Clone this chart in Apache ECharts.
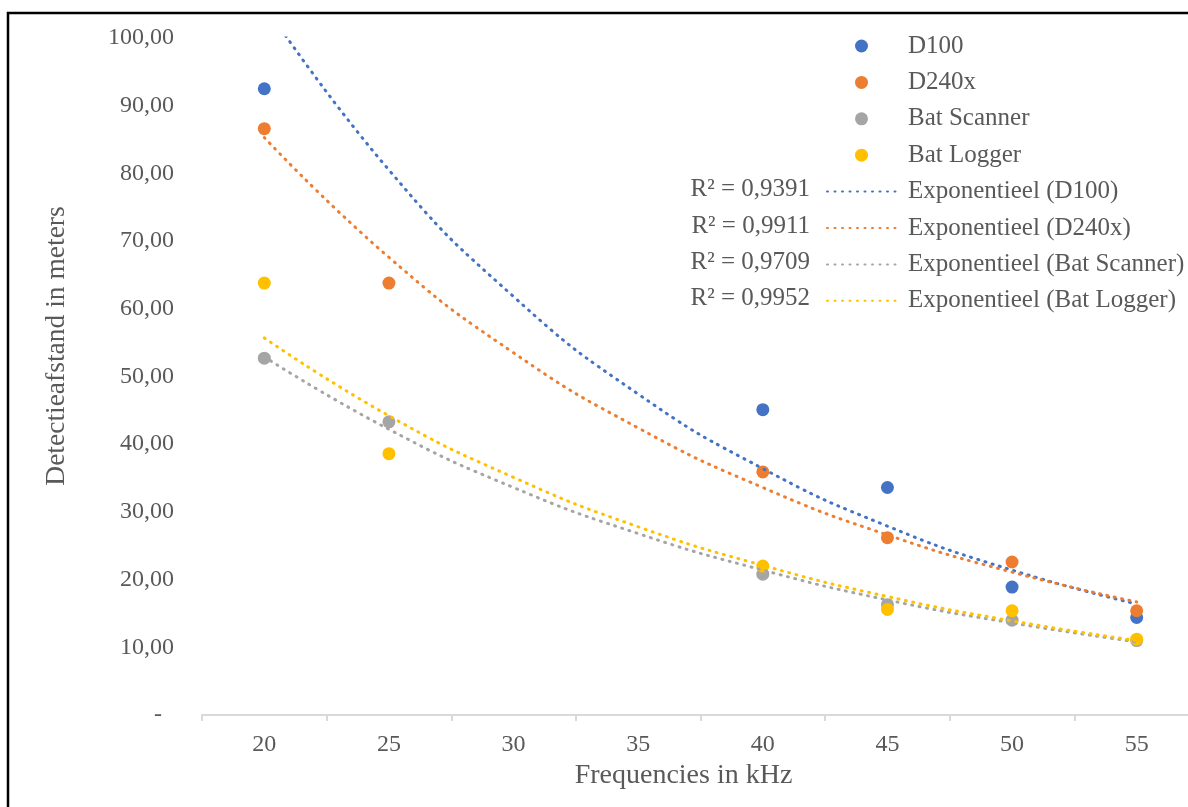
<!DOCTYPE html>
<html>
<head>
<meta charset="utf-8">
<script src="https://cdn.jsdelivr.net/npm/echarts@6/dist/echarts.min.js"></script>
<style>
html,body{margin:0;padding:0;background:#fff;overflow:hidden;width:1188px;height:807px;}
#chart{width:1215px;height:807px;}
</style>
</head>
<body>
<div id="chart"></div>
<script>
// ---- data ----
const categories = ['20', '25', '30', '35', '40', '45', '50', '55'];
const d100       = [92.5, null, null, null, 45.1, 33.6, 18.9, 14.4];
const d240x      = [86.6, 63.8, null, null, 35.9, 26.2, 22.6, 15.4];
const batScanner = [52.7, 43.3, null, null, 20.8, 16.3, 14.0, 11.0];
const batLogger  = [63.8, 38.6, null, null, 22.0, 15.6, 15.4, 11.2];
// exponential trend lines, read at each category position
const trendD100    = [104.9, 80.5, 61.8, 47.4, 36.4, 27.9, 21.4, 16.4];
const trendD240x   = [85.3, 67.6, 53.5, 42.4, 33.6, 26.6, 21.1, 16.7];
const trendScanner = [52.9, 42.2, 33.6, 26.8, 21.4, 17.0, 13.6, 10.8];
const trendLogger  = [55.7, 44.2, 35.1, 27.8, 22.1, 17.5, 13.9, 11.0];
const seriesNames = ['D100', 'D240x', 'Bat Scanner', 'Bat Logger'];
const trendNames = ['Exponentieel (D100)', 'Exponentieel (D240x)', 'Exponentieel (Bat Scanner)', 'Exponentieel (Bat Logger)'];
const rSquared = ['R² = 0,9391', 'R² = 0,9911', 'R² = 0,9709', 'R² = 0,9952'];
const yTicks = { min: 0, max: 100, interval: 10 };

const colors = ['#4472C4', '#ED7D31', '#A5A5A5', '#FFC000'];
const FONT = "'Liberation Serif', 'Times New Roman', serif";
const TXT = '#595959';

const chart = echarts.init(document.getElementById('chart'), null, { renderer: 'canvas' });

const pointSets = [d100, d240x, batScanner, batLogger];
const trendSets = [trendD100, trendD240x, trendScanner, trendLogger];

const series = [];
pointSets.forEach((arr, i) => {
  series.push({
    name: seriesNames[i], type: 'scatter', data: arr,
    symbol: 'circle', symbolSize: 13,
    itemStyle: { color: colors[i], opacity: 1 },
    z: 2
  });
});
trendSets.forEach((arr, i) => {
  series.push({
    name: trendNames[i], type: 'line', data: arr, smooth: true,
    symbol: 'none', showSymbol: false, clip: true,
    lineStyle: { color: colors[i], width: 3, type: [1, 6.5], cap: 'round' },
    itemStyle: { color: colors[i] },
    z: 3
  });
});

const legendRowY0 = 44, legendRowStep = 36.4;
const graphics = [
  { type: 'rect', shape: { x: 8, y: 13, width: 1400, height: 1000 },
    style: { fill: 'none', stroke: '#000', lineWidth: 2.5 }, silent: true, z: 100 }
];
rSquared.forEach((t, i) => {
  graphics.push({
    type: 'text', x: 810, y: legendRowY0 + legendRowStep * (4 + i),
    style: { text: t, align: 'right', verticalAlign: 'middle', fill: TXT,
      font: "25px 'Liberation Serif', 'Times New Roman', serif" }
  });
});

chart.setOption({
  backgroundColor: '#fff',
  animation: false,
  grid: { left: 202, top: 38, width: 997, height: 677 },
  legend: {
    orient: 'vertical', left: 821, top: legendRowY0 - 16,
    itemWidth: 69, itemHeight: 13, itemGap: legendRowStep - 26,
    symbolKeepAspect: true,
    textStyle: { color: TXT, fontFamily: FONT, fontSize: 25, lineHeight: 26, padding: [0, 0, 0, 7] },
    data: seriesNames.map(n => ({ name: n, icon: 'circle' }))
      .concat(trendNames.map(n => ({ name: n, itemStyle: { opacity: 0 } })))
  },
  xAxis: {
    type: 'category', data: categories, boundaryGap: true,
    name: 'Frequencies in kHz', nameLocation: 'middle', nameGap: 44,
    nameTextStyle: { color: TXT, fontFamily: FONT, fontSize: 28, padding: [0, 34, 0, 0] },
    axisLine: { lineStyle: { color: '#D9D9D9', width: 2 } },
    axisTick: { show: true, length: 6, interval: 0, lineStyle: { color: '#D9D9D9', width: 2 } },
    axisLabel: { color: TXT, fontFamily: FONT, fontSize: 24, margin: 18, interval: 0 },
    splitLine: { show: false }
  },
  yAxis: {
    type: 'value', min: yTicks.min, max: yTicks.max, interval: yTicks.interval,
    name: 'Detectieafstand in meters', nameLocation: 'middle', nameGap: 131,
    nameTextStyle: { color: TXT, fontFamily: FONT, fontSize: 27.5, padding: [0, 0, 0, 61] },
    axisLine: { show: false }, axisTick: { show: false },
    splitLine: { show: false },
    axisLabel: {
      color: TXT, fontFamily: FONT, fontSize: 24, margin: 28,
      formatter: v => v === 0 ? '-  ' : v.toFixed(2).replace('.', ',')
    }
  },
  graphic: graphics,
  series: series
});
</script>
</body>
</html>
